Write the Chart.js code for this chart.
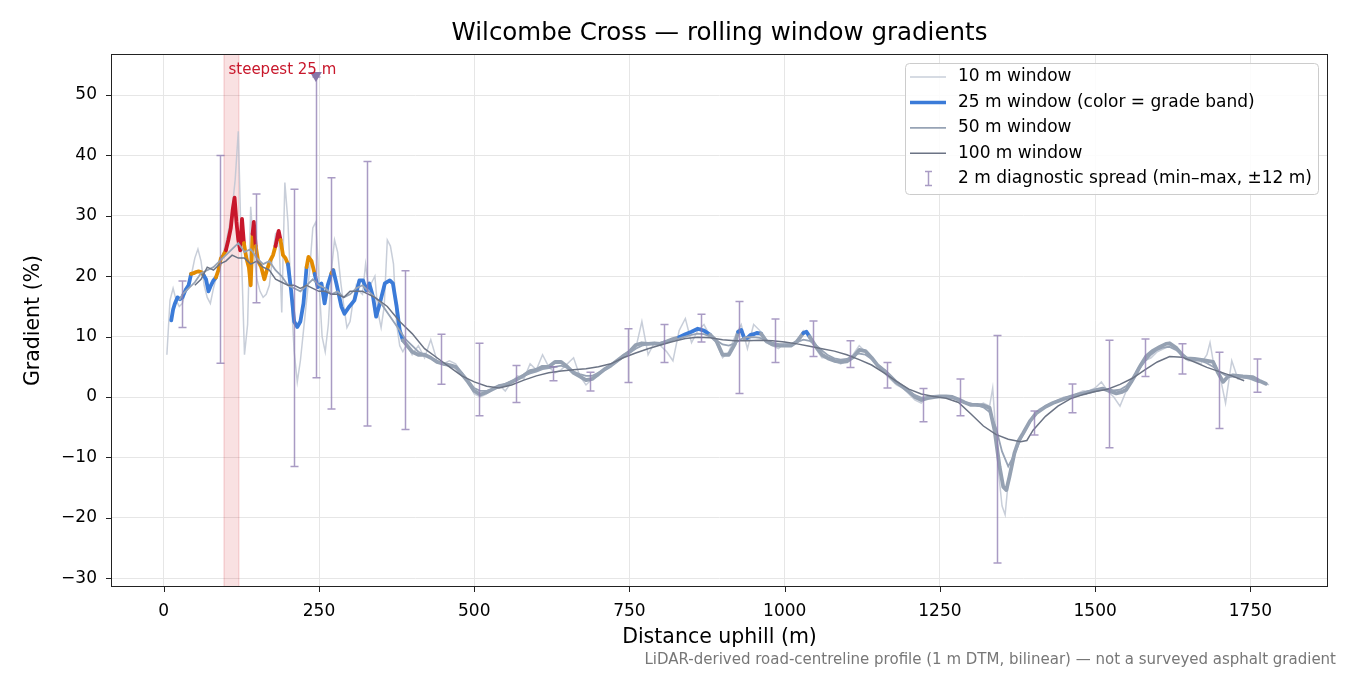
<!DOCTYPE html>
<html>
<head>
<meta charset="utf-8">
<script src="https://cdn.jsdelivr.net/npm/chart.js@4.4.1/dist/chart.umd.min.js"></script>
<style>
  html, body { margin: 0; padding: 0; background: #fff; }
</style>
</head>
<body>
<canvas id="c" width="1350" height="675"></canvas>
<script>
// --- data (distance in m, gradient in %) ---
const dist10 = [5,10,15,20,25,30,35,40,45,50,55,60,65,70,75,80,85,90,95,100,
  105,110,115,120,125,130,135,140,145,150,155,160,165,170,175,180,185,190,195,200,
  205,210,215,220,225,230,235,240,245,250,255,260,265,270,275,280,285,290,295,300,
  305,310,315,320,325,330,335,340,345,350,355,360,365,370,375,380,385,390,395,400,
  410,420,430,440,450,460,470,480,490,500,510,520,530,540,550,560,570,580,590,600,
  610,620,630,640,650,660,670,680,690,700,710,720,730,740,750,760,770,780,790,800,
  810,820,830,840,850,860,870,880,890,900,910,920,930,940,950,960,970,980,990,1000,
  1010,1020,1030,1040,1050,1060,1070,1080,1090,1100,1110,1120,1130,1140,1150,1160,1170,1180,1190,1200,
  1210,1220,1230,1240,1250,1260,1270,1280,1290,1300,1310,1320,1330,1335,1340,1345,1350,1355,1360,1365,
  1370,1380,1390,1400,1410,1420,1430,1440,1450,1460,1470,1480,1490,1500,1510,1520,1530,1540,1550,1560,
  1570,1580,1590,1600,1610,1620,1630,1640,1650,1660,1670,1680,1685,1690,1700,1710,1720,1730,1740,1750,
  1760,1770,1780];
const grad10 = [7,16,18,16,15,15.5,17.5,19,20.5,23,24.5,22.5,18.5,16.5,15.5,18,20,21.5,23.5,25.5,
  28,31,36,44,24,7,12,31.5,24,19.5,17.5,16.5,17,18.5,23,27,27.5,14,35.5,29,
  17,7.5,2.5,6,11,16,21,28,29,19,10,7.5,12,21,26,24,19,15,11.5,12.5,
  16,18.5,17.5,17,22,18,19,20,14,11.5,15,26,25,22,12,8.5,7.5,8.5,8,7,
  8.5,6.5,9.5,6,5.5,6,5.5,4,2.5,0.5,0,0.5,1.5,2,1,2.5,3.5,3,5.5,4.5,
  7,5,4,4.5,5.5,6.5,3.5,2,3,3.5,4.5,5.5,6,7,7.5,8,12.5,7,9,8.5,
  7.5,6,11,13,9,11,12,10,9,6.5,7.5,10,12,8,12,11,9,8.5,8,9,
  8.5,9.5,11,10,8,6.5,6.5,6,5.5,6,7,8.5,7.5,6.5,5,4,3,2,1.5,0.5,
  -0.5,-1,0,0,0,0,0,-0.5,-1,-1,-1.5,-1,-1.5,1.5,-6,-13,-18,-19.5,-14,-11,
  -9,-6.5,-5,-3,-2,-1.5,-1,-0.5,0,0,0.5,1,1,1.5,2.5,1,0,-1.5,1,3,
  5,6,6.5,7.5,8,8.5,8,7,6,6,5.5,7,9,6,4,-1,6,3,3.5,3,
  3,2.5,2];

const dist25 = [12,15,18,22,26,30,35,40,44,48,52,56,60,64,68,72,76,80,84,88,
  92,96,100,104,108,111,114,117,120,123,126,129,133,137,140,143,145,148,152,157,
  162,166,171,176,180,185,188,192,196,200,205,210,215,220,225,230,233,238,243,248,
  254,259,264,270,273,278,286,291,299,307,315,321,326,331,337,342,348,356,364,369,
  375,380,385,392,400,410,420,430,440,450,460,470,480,490,500,510,520,530,540,550,
  560,570,580,590,600,610,620,630,640,650,660,670,680,690,700,710,720,730,740,750,
  760,770,780,790,800,810,820,830,840,850,860,870,880,890,900,910,920,925,930,935,
  940,945,950,955,962,970,980,990,1000,1010,1020,1030,1035,1040,1050,1060,1070,1080,1090,1100,
  1110,1120,1130,1140,1150,1160,1170,1180,1190,1200,1210,1220,1230,1240,1250,1260,1270,1280,1290,1300,
  1310,1320,1330,1338,1346,1352,1357,1362,1370,1377,1384,1395,1405,1420,1432,1445,1459,1472,1486,1500,
  1512,1523,1534,1542,1550,1558,1566,1574,1582,1592,1604,1614,1620,1631,1640,1647,1660,1674,1690,1698,
  1706,1714,1722,1738,1754,1766,1775];
const grad25 = [12.7,14.5,15.5,16.5,16.2,16.5,17.7,18.5,20.4,20.5,20.7,20.8,20.7,20.2,19.5,17.5,18.5,19.3,19.8,21,
  23,23.5,24.3,26,28,31,33,29,26,24.3,29.5,25.5,23,21.5,18.5,27,29,25,22.5,21.5,
  19.5,21,22.5,23.5,25,27.5,26,23.5,23,22,17.7,12.5,11.6,12.5,15.5,21.5,23.2,22.5,20.4,18.2,
  18.8,15.5,18.5,20.5,21,18.8,15,13.8,15,16,19.3,19.3,17.7,18.8,16.6,13.3,15.5,18.8,19.3,18.8,
  15,11.1,9.4,8.5,7.5,7,7,6.5,5.8,5.5,5.3,5,3.8,2.5,1,0.4,0.8,1.3,1.8,2,
  2.5,3,3.6,4.3,4.5,5,5,5.8,5.8,5,4,3.4,2.8,3,3.8,4.6,5.2,6,6.8,7.5,
  8.6,8.9,8.8,8.9,8.8,9.2,9.6,9.9,10.4,10.8,11.3,11,10.3,9.3,7,7,8.8,10.8,11.1,9.7,
  9.8,10.3,10.4,10.6,10.5,9.3,8.7,8.5,8.5,8.5,9.2,10.6,10.8,10,8.4,7,6.4,6,5.8,5.9,
  6.6,7.8,7.6,6.5,5.2,4.4,3.4,2.4,1.7,0.9,0,-0.5,-0.2,0,0.1,0.1,0,-0.4,-0.9,-1.3,
  -1.3,-1.4,-1.8,-5.5,-11.5,-14.9,-15.4,-13.2,-9.3,-7.2,-6,-4,-2.7,-1.6,-1,-0.5,0,0.4,0.7,1.1,
  1.4,1,0.6,0.8,1.2,2.5,3.9,5.4,6.7,7.6,8.3,8.8,8.9,8.1,7,6.4,6.3,6.1,5.8,4,
  2.5,3.4,3.6,3.4,3.3,2.6,2.2];

const dist50 = [25,30,40,50,60,70,80,90,100,110,120,130,140,150,160,170,180,190,200,
  210,220,230,240,250,260,270,280,290,300,310,320,330,340,350,360,370,380,390,400,
  410,420,430,440,450,460,470,480,490,500,510,520,530,540,550,560,570,580,590,600,
  610,620,630,640,650,660,670,680,690,700,710,720,730,740,750,760,770,780,790,800,
  810,820,830,840,850,860,870,880,890,900,910,920,930,940,950,960,970,980,990,1000,
  1010,1020,1030,1040,1050,1060,1070,1080,1090,1100,1110,1120,1130,1140,1150,1160,1170,1180,1190,1200,
  1210,1220,1230,1240,1250,1260,1270,1280,1290,1300,1310,1320,1330,1340,1350,1360,1370,1380,1390,1400,
  1410,1420,1430,1440,1450,1460,1470,1480,1490,1500,1510,1520,1530,1540,1550,1560,1570,1580,1590,1600,
  1610,1620,1630,1640,1650,1660,1670,1680,1690,1700,1710,1720,1730,1740,1750,1760,1765];
const grad50 = [16,17,18,19,20.5,21,21.5,22.5,23.5,24.5,25.5,24,24.5,23,22,22.5,21,20,18.5,
  18,17.5,18.5,19.5,18.5,18,17,17.5,16.5,17,18,18.5,17.5,16.5,15.5,14,12.5,11,9.5,8.5,
  7.5,7,6.5,6,5.5,5.2,4.8,4,2.8,1.5,1,1,1.3,1.8,2.2,2.6,3,3.5,3.9,4.2,
  4.6,4.8,5,5.2,4.8,4.2,3.8,3.5,3.5,4,4.5,5.2,5.9,6.6,7.3,8,8.5,8.7,8.8,9,
  9.3,9.5,9.7,10,10.3,10.5,10.4,10,9.4,8.7,8.5,8.9,9.6,9.9,9.9,9.8,9.4,9,8.8,8.7,
  8.8,9.1,9.5,9.3,8.6,7.7,6.9,6.4,6.2,6.3,6.8,7.2,7,6.3,5.3,4.5,3.5,2.6,1.8,1,
  0.3,-0.1,0,0.1,0.1,0,-0.2,-0.5,-0.9,-1.2,-1.4,-1.7,-2.5,-5,-9,-11.5,-9.5,-7,-5,-3.3,
  -2.3,-1.6,-1.1,-0.6,-0.2,0.1,0.4,0.7,1,1.2,1.3,1.3,1.1,1.2,1.8,3,4.5,5.9,7,7.8,
  8.2,8.3,7.8,7,6.4,6.2,6,5.6,5,4.2,3.6,3.4,3.3,3.2,3,2.6,2.4];

const dist100 = [50,60,70,80,90,100,110,120,130,140,150,160,170,180,190,200,210,220,230,240,
  250,260,270,280,290,300,320,340,360,380,400,420,440,460,480,500,520,540,560,580,
  600,620,640,660,680,700,720,740,760,780,800,820,840,860,880,900,920,940,960,980,
  1000,1020,1040,1060,1080,1100,1120,1140,1160,1180,1200,1220,1240,1260,1280,1300,1320,1340,1360,1380,
  1390,1400,1420,1440,1460,1480,1500,1520,1540,1560,1580,1600,1620,1640,1660,1680,1700,1720,1740];
const grad100 = [18.5,19.5,21.5,21,22,22.5,23.5,23,23,22,22.5,21.5,21,19.5,19,18.5,18.5,18,18.5,18,
  17.5,17.5,17,17,16.5,17.5,17.5,16.5,15,12.5,10.5,8,6.5,5,3.5,2.5,1.8,1.5,2,2.8,
  3.5,4,4.3,4.5,4.7,5,5.5,6.5,7.3,8,8.6,9.2,9.7,9.9,9.8,9.5,9.3,9.3,9.4,9.3,
  9.1,8.8,8.4,8,7.6,7,6.2,5.3,4,2.6,1.3,0.5,0.1,-0.2,-0.9,-2.8,-4.8,-6.2,-7,-7.4,
  -7.2,-5.5,-3.2,-1.5,-0.3,0.4,0.9,1.3,2.1,3.1,4.5,5.8,6.7,6.6,5.8,4.9,4.2,3.5,2.7];

// 2 m diagnostic spread: min/max within ±12 m
const spreadDist = [30,90,149,209,245,269,328,388,447,507,567,627,687,747,806,866,926,985,1045,1105,
  1164,1223,1283,1342,1402,1462,1522,1581,1640,1700,1760];
const spreadMin = [11.5,5.6,15.6,-11.5,3.2,-2,-4.8,-5.4,2.1,-3.1,-0.9,2.7,1.0,2.4,5.7,9.1,0.6,5.7,6.7,4.9,
  1.5,-4.1,-3.1,-27.5,-6.3,-2.6,-8.4,3.4,3.8,-5.2,0.8];
const spreadMax = [19.2,40,33.6,34.4,53,36.3,39,20.9,10.4,8.9,5.2,5.0,4.1,11.3,12.0,13.7,15.8,12.9,12.6,9.3,
  5.7,1.4,3.0,10.2,-2.3,2.15,9.4,9.6,8.8,7.4,6.3];

const xTicks = [0, 250, 500, 750, 1000, 1250, 1500, 1750];
const yTicks = [-30, -20, -10, 0, 10, 20, 30, 40, 50];

const gradeBands = [10, 20, 25];
const bandColors = ['#95a1b2', '#3b7bd8', '#e38b00', '#c8172b'];
const steepSpan = [97, 121];
const steepMarker = { x: 245, y: 53 };
const steepLabel = { x: 191, y: 54.2, text: 'steepest 25 m' };

const FONT = "'DejaVu Sans', sans-serif";
const C10 = 'rgba(190,198,210,0.85)', C50 = '#97a3b5', C100 = '#6b7384', CERR = 'rgba(140,122,176,0.75)';

function pts(xs, ys) { return xs.map((x, i) => ({ x, y: ys[i] })); }
function bandColor(g) {
  let k = 0;
  while (k < gradeBands.length && g >= gradeBands[k]) k++;
  return bandColors[k];
}
const minus = v => String(v).replace('-', '\u2212');

const decor = {
  id: 'decor',
  beforeDatasetsDraw(chart) {
    const { ctx, chartArea: a, scales: { x } } = chart;
    const x0 = x.getPixelForValue(steepSpan[0]), x1 = x.getPixelForValue(steepSpan[1]);
    ctx.save();
    ctx.fillStyle = 'rgba(214,40,50,0.14)';
    ctx.fillRect(x0, a.top, x1 - x0, a.bottom - a.top);
    ctx.strokeStyle = 'rgba(214,40,50,0.22)';
    ctx.lineWidth = 1;
    ctx.beginPath();
    ctx.moveTo(x0, a.top); ctx.lineTo(x0, a.bottom);
    ctx.moveTo(x1, a.top); ctx.lineTo(x1, a.bottom);
    ctx.stroke();
    ctx.restore();
  },
  afterDatasetsDraw(chart) {
    const { ctx, scales: { x, y } } = chart;
    ctx.save();
    // error bars
    ctx.strokeStyle = CERR;
    ctx.lineWidth = 1.5;
    spreadDist.forEach((d, i) => {
      const px = Math.round(x.getPixelForValue(d)) + 0.5;
      const t = y.getPixelForValue(spreadMax[i]), b = y.getPixelForValue(spreadMin[i]);
      ctx.beginPath();
      ctx.moveTo(px, t); ctx.lineTo(px, b);
      ctx.moveTo(px - 4, t); ctx.lineTo(px + 4, t);
      ctx.moveTo(px - 4, b); ctx.lineTo(px + 4, b);
      ctx.stroke();
    });
    // steepest marker
    const mx = x.getPixelForValue(steepMarker.x), my = y.getPixelForValue(steepMarker.y);
    ctx.fillStyle = '#8677a8';
    ctx.beginPath();
    ctx.moveTo(mx - 6, my - 5); ctx.lineTo(mx + 6, my - 5); ctx.lineTo(mx, my + 5);
    ctx.closePath();
    ctx.fill();
    ctx.fillStyle = '#c8172b';
    ctx.font = '15px ' + FONT;
    ctx.textAlign = 'center';
    ctx.textBaseline = 'middle';
    ctx.fillText(steepLabel.text, x.getPixelForValue(steepLabel.x), y.getPixelForValue(steepLabel.y));
    ctx.restore();
  },
  afterDraw(chart) {
    const { ctx, chartArea: a, scales: { x, y } } = chart;
    ctx.save();
    // frame + tick marks
    ctx.strokeStyle = '#222';
    ctx.lineWidth = 1;
    ctx.strokeRect(Math.round(a.left) + 0.5, Math.round(a.top) + 0.5,
      Math.round(a.right - a.left) - 1, Math.round(a.bottom - a.top) - 1);
    ctx.beginPath();
    x.ticks.forEach(t => {
      const px = Math.round(x.getPixelForValue(t.value)) + 0.5;
      ctx.moveTo(px, a.bottom); ctx.lineTo(px, a.bottom + 5);
    });
    y.ticks.forEach(t => {
      const py = Math.round(y.getPixelForValue(t.value)) + 0.5;
      ctx.moveTo(a.left, py); ctx.lineTo(a.left - 5, py);
    });
    ctx.stroke();

    // title + footer
    ctx.fillStyle = '#000';
    ctx.font = '24.5px ' + FONT;
    ctx.textAlign = 'center';
    ctx.textBaseline = 'middle';
    ctx.fillText('Wilcombe Cross \u2014 rolling window gradients', (a.left + a.right) / 2, 34);
    ctx.fillStyle = '#777';
    ctx.font = '15px ' + FONT;
    ctx.textAlign = 'right';
    ctx.fillText('LiDAR-derived road-centreline profile (1 m DTM, bilinear) \u2014 not a surveyed asphalt gradient', 1336, 660);

    // legend
    const lx = 905, ly = 63, lw = 413, lh = 131;
    ctx.fillStyle = 'rgba(255,255,255,0.85)';
    ctx.strokeStyle = '#cccccc';
    ctx.beginPath();
    ctx.roundRect(lx + 0.5, ly + 0.5, lw, lh, 4);
    ctx.fill(); ctx.stroke();
    const items = [
      { c: C10, w: 1.5, t: '10 m window' },
      { c: bandColors[1], w: 3.5, t: '25 m window (color = grade band)' },
      { c: C50, w: 1.8, t: '50 m window' },
      { c: C100, w: 1.6, t: '100 m window' },
      { err: true, t: '2 m diagnostic spread (min\u2013max, \u00b112 m)' }
    ];
    ctx.font = '17px ' + FONT;
    ctx.textAlign = 'left';
    ctx.textBaseline = 'middle';
    items.forEach((it, i) => {
      const cy = 77 + i * 25.4;
      if (it.err) {
        ctx.strokeStyle = CERR; ctx.lineWidth = 1.5;
        ctx.beginPath();
        ctx.moveTo(928.5, cy - 7); ctx.lineTo(928.5, cy + 7);
        ctx.moveTo(925, cy - 7); ctx.lineTo(932, cy - 7);
        ctx.moveTo(925, cy + 7); ctx.lineTo(932, cy + 7);
        ctx.stroke();
      } else {
        ctx.strokeStyle = it.c; ctx.lineWidth = it.w;
        ctx.beginPath(); ctx.moveTo(910, cy); ctx.lineTo(946, cy); ctx.stroke();
      }
      ctx.fillStyle = '#000';
      ctx.fillText(it.t, 958, cy);
    });
    ctx.restore();
  }
};

new Chart(document.getElementById('c'), {
  type: 'line',
  data: {
    datasets: [
      { label: '100 m window', data: pts(dist100, grad100), borderColor: C100, borderWidth: 1.5, order: 1 },
      { label: '50 m window', data: pts(dist50, grad50), borderColor: C50, borderWidth: 1.8, order: 2 },
      { label: '25 m window', data: pts(dist25, grad25), borderWidth: 3.8, order: 3,
        borderColor: bandColors[1], borderCapStyle: 'round', borderJoinStyle: 'round',
        segment: { borderColor: c => bandColor((c.p0.parsed.y + c.p1.parsed.y) / 2) } },
      { label: '10 m window', data: pts(dist10, grad10), borderColor: C10, borderWidth: 1.5, order: 4 }
    ]
  },
  options: {
    responsive: false,
    animation: false,
    elements: { point: { radius: 0 }, line: { tension: 0 } },
    layout: { padding: { left: 0, right: 22, top: 54, bottom: 25 } },
    plugins: { legend: { display: false }, tooltip: { enabled: false } },
    scales: {
      x: {
        type: 'linear', min: -85, max: 1875,
        afterBuildTicks: s => { s.ticks = xTicks.map(v => ({ value: v })); },
        ticks: { maxRotation: 0, color: '#000', padding: 14, autoSkip: false,
                 font: { family: FONT, size: 17 }, callback: minus },
        grid: { color: '#e6e6e6', drawTicks: false },
        border: { display: false },
        title: { display: true, text: 'Distance uphill (m)', color: '#000',
                 font: { family: FONT, size: 20.5 }, padding: { top: 0, bottom: 0 } },
        afterFit: s => { s.height = 63; }
      },
      y: {
        type: 'linear', min: -31.46, max: 56.8,
        afterBuildTicks: s => { s.ticks = yTicks.map(v => ({ value: v })); },
        ticks: { color: '#000', padding: 14, autoSkip: false,
                 font: { family: FONT, size: 17 }, callback: minus },
        grid: { color: '#e6e6e6', drawTicks: false },
        border: { display: false },
        title: { display: true, text: 'Gradient (%)', color: '#000',
                 font: { family: FONT, size: 20.5 }, padding: { top: 21, bottom: 0 } },
        afterFit: s => { s.width = 111; }
      }
    }
  },
  plugins: [decor]
});
</script>
</body>
</html>
